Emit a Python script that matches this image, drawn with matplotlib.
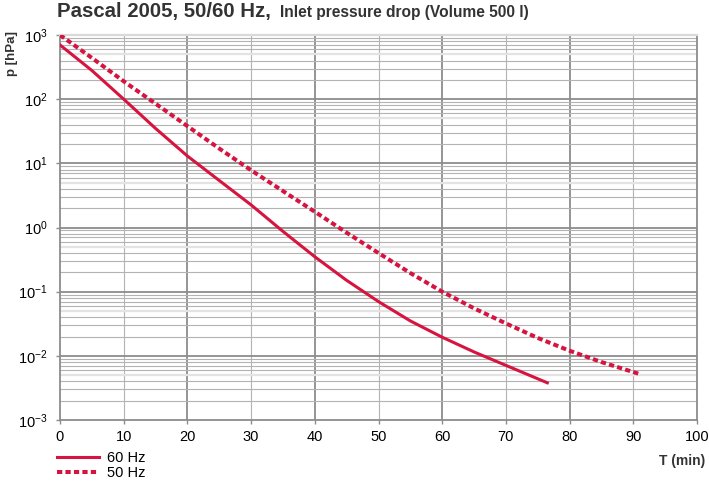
import matplotlib.pyplot as plt
from matplotlib.ticker import LogLocator, FixedLocator

plt.rcParams['font.family'] = ['Liberation Sans', 'DejaVu Sans']
plt.rcParams['mathtext.fontset'] = 'custom'
plt.rcParams['mathtext.rm'] = 'Liberation Sans'
plt.rcParams['mathtext.it'] = 'Liberation Sans:italic'
plt.rcParams['mathtext.bf'] = 'Liberation Sans:bold'
plt.rcParams['axes.unicode_minus'] = False

# Daten
t_60 = [0, 5, 10, 15, 20, 25, 30, 35, 40, 45, 50, 55, 60, 65, 70, 76.5]
p_60 = [700, 280, 100, 35, 13, 5.4, 2.25, 0.87, 0.35, 0.15, 0.07, 0.035,
        0.0195, 0.0115, 0.0071, 0.0038]

t_50 = [0, 5, 10, 15, 20, 25, 30, 35, 40, 45, 50, 55, 60, 65, 70, 75, 80, 85, 91]
p_50 = [1000, 440, 190, 85, 38, 17, 7.8, 3.7, 1.76, 0.83, 0.4, 0.195,
        0.1, 0.055, 0.032, 0.019, 0.012, 0.008, 0.0052]

rot = '#d7143f'
text_col = '#333333'

fig = plt.figure(figsize=(7.09, 4.84), dpi=100)
ax = fig.add_axes([60/709, 1-420/484, 637/709, 385/484])

ax.set_yscale('log')
ax.set_xlim(0, 100)
ax.set_ylim(1e-3, 1e3)

# Gitter
for v in range(10, 100, 20):
    ax.axvline(v, color='#b3b3b3', lw=0.8, zorder=1)
for v in range(20, 100, 20):
    ax.axvline(v, color='#8c8c8c', lw=1.3, zorder=1)
for e in range(-3, 3):
    for m in [2, 3, 4, 6, 7, 8, 9]:
        ax.axhline(m * 10.0**e, color='#b3b3b3', lw=0.8, zorder=1)
    ax.axhline(5 * 10.0**e, color='#e3e3e3', lw=1.6, zorder=1)
for e in range(-2, 3):
    ax.axhline(10.0**e, color='#8c8c8c', lw=1.3, zorder=1)

ax.plot(t_60, p_60, color=rot, lw=2.2, label='60 Hz', zorder=3)
ax.plot(t_50, p_50, color=rot, lw=2.9, ls=(0, (1.3, 0.8)), label='50 Hz', zorder=3)

for s in ['left', 'bottom', 'right']:
    ax.spines[s].set_color('#8c8c8c')
    ax.spines[s].set_linewidth(1.3)
ax.spines['top'].set_color('#d9d9d9')
ax.spines['top'].set_linewidth(1.6)

ax.xaxis.set_major_locator(FixedLocator(range(0, 101, 10)))
ax.yaxis.set_major_locator(LogLocator(base=10, numticks=10))
ax.yaxis.set_minor_locator(FixedLocator([]))
ax.tick_params(axis='both', colors='#8c8c8c', labelcolor='black',
               length=3, width=1, labelsize=10.5)
ax.tick_params(axis='x', pad=4)
ax.tick_params(axis='y', pad=6)

fig.text(57/709, 1-17.5/484, 'Pascal 2005, 50/60 Hz,', fontsize=14.7,
         fontweight='bold', color=text_col, va='baseline')
fig.text(280/709, 1-17.5/484, 'Inlet pressure drop (Volume 500 l)', fontsize=11.2,
         fontweight='bold', color=text_col, va='baseline')

fig.text(12/709, 1-54/484, 'p [hPa]', rotation=90, fontsize=9.5,
         fontweight='bold', color=text_col, ha='center', va='center')
fig.text(705/709, 1-461/484, 'T (min)', fontsize=10, fontweight='bold',
         color=text_col, ha='right', va='center')

ax.legend(loc='upper left', bbox_to_anchor=(57/709, 1-451/484),
          bbox_transform=fig.transFigure, frameon=False, fontsize=10.5,
          handlelength=2.9, handletextpad=0.5, labelspacing=0.1,
          borderpad=0, borderaxespad=0)

fig.savefig('out.png', dpi=100)
